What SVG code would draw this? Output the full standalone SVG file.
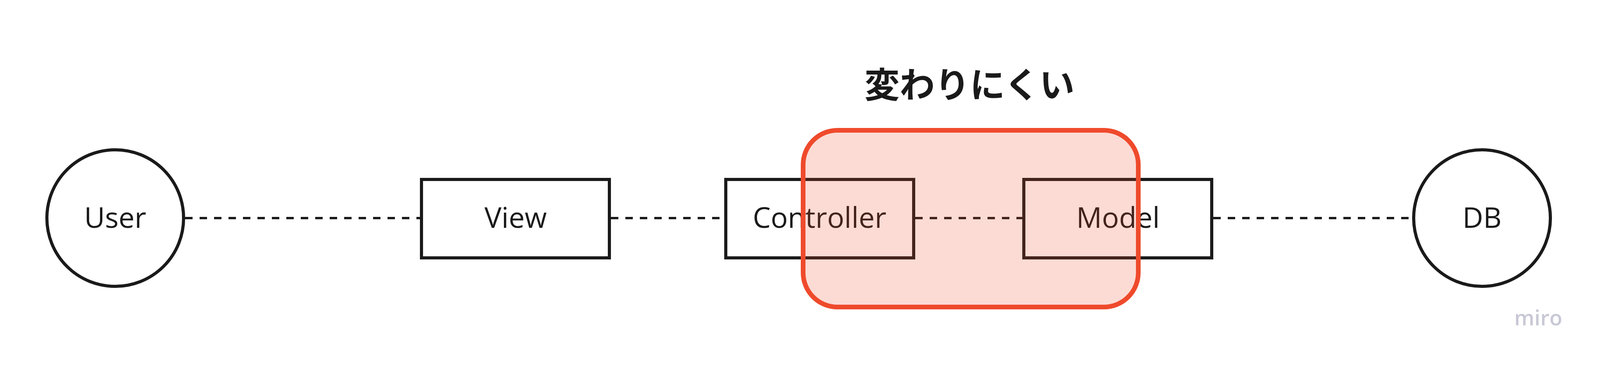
<svg xmlns="http://www.w3.org/2000/svg" width="4203" height="951" viewBox="0 0 4203 951">
<style>
.n{fill:#fff;stroke:#1a1a1a;stroke-width:8}
.t{font-family:"Open Sans","Noto Sans",sans-serif;font-size:73px;fill:#1a1a1a;text-anchor:middle;dominant-baseline:central}
.c{stroke:#1a1a1a;stroke-width:6;stroke-dasharray:19 18;fill:none}
</style>
<rect width="4203" height="951" fill="#fff"/>
<g id="connectors">
<line class="c" x1="474" y1="559" x2="1075" y2="559"/>
<line class="c" x1="1564" y1="559" x2="1854" y2="559"/>
<line class="c" x1="2343" y1="559" x2="2617" y2="559"/>
<line class="c" x1="3106" y1="559" x2="3615" y2="559"/>
</g>
<g id="user"><circle class="n" cx="295" cy="559" r="175"/><text class="t" x="295" y="555">User</text></g>
<g id="view"><rect class="n" x="1079" y="460" width="481" height="201"/><text class="t" x="1320" y="555">View</text></g>
<g id="controller"><rect class="n" x="1858" y="460" width="481" height="201"/><text class="t" x="2098" y="555">Controller</text></g>
<g id="model"><rect class="n" x="2621" y="460" width="481" height="201"/><text class="t" x="2862" y="555">Model</text></g>
<g id="db"><circle class="n" cx="3794" cy="559" r="175"/><text class="t" x="3794" y="555">DB</text></g>
<g id="group"><rect x="2056" y="334" width="858" height="453" rx="88" fill="#ef4a2c" fill-opacity="0.2" stroke="#ef4a2c" stroke-width="12"/></g>
<g id="title"><text x="2482" y="211" font-family="'Noto Sans CJK JP',sans-serif" font-weight="bold" font-size="90" fill="#1a1a1a" text-anchor="middle" dominant-baseline="central">変わりにくい</text></g>
<text x="3938" y="813" font-family="'Open Sans',sans-serif" font-weight="600" font-size="54" fill="#c8c8d6" text-anchor="middle" dominant-baseline="central">miro</text>
</svg>
